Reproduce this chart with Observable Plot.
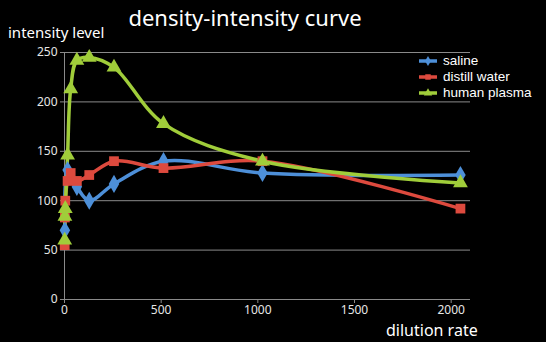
<!DOCTYPE html>
<html>
<head>
<meta charset="utf-8">
<script src="https://cdn.jsdelivr.net/npm/d3@7"></script>
<script src="https://cdn.jsdelivr.net/npm/@observablehq/plot@0.6"></script>
<style>
  html, body { margin: 0; padding: 0; background: #000; }
  #wrap { position: relative; width: 546px; height: 342px; background: #000; overflow: hidden; font-family: "Noto Sans", sans-serif; color: #fff; }
  .lbl { position: absolute; white-space: nowrap; color: #fff; line-height: 1.2; }
  #title { left: 0; width: 490px; text-align: center; top: 4px; font-size: 22px; }
  #ylab { left: 8px; top: 23px; font-size: 15px; }
  #xlab { left: 386px; top: 321px; font-size: 16px; }
  #legend { position: absolute; left: 418px; top: 53px; font-family: "Liberation Sans", sans-serif; font-size: 13.5px; line-height: 16px; }
  #legend div { display: flex; align-items: center; height: 16px; line-height: 16px; }
  #legend svg { margin-right: 5px; }
  #chart { position: absolute; left: 0; top: 0; }
</style>
</head>
<body>
<div id="wrap">
  <div id="chart"></div>
  <div class="lbl" id="title">density-intensity curve</div>
  <div class="lbl" id="ylab">intensity level</div>
  <div class="lbl" id="xlab">dilution rate</div>
  <div id="legend"></div>
</div>
<script>
// Data
const seriesNames = ["saline", "distill water", "human plasma"];
const seriesColors = ["#4d8fd8", "#dd4a3e", "#a0cd3a"];
const seriesSymbols = ["diamond", "square", "triangle"];

const salineX = [2, 16, 64, 128, 256, 512, 1024, 2048];
const salineY = [70, 131, 114, 100, 117, 140, 128, 126];

const waterX = [1, 2, 4, 16, 32, 64, 128, 256, 512, 1024, 2048];
const waterY = [55, 83, 100, 120, 128, 120, 126, 140, 133, 140, 92];

const plasmaX = [1, 2, 4, 16, 32, 64, 128, 256, 512, 1024, 2048];
const plasmaY = [60, 84, 92, 146, 213, 242, 245, 235, 178, 140, 118];

const xTicks = [0, 500, 1000, 1500, 2000];
const yTicks = [0, 50, 100, 150, 200, 250];

const rows = [];
[[salineX, salineY], [waterX, waterY], [plasmaX, plasmaY]].forEach(([xs, ys], i) => {
  xs.forEach((x, j) => rows.push({series: seriesNames[i], x, y: ys[j]}));
});

const marks = [
  Plot.ruleY(yTicks.filter(d => d > 0), {stroke: "#8a8a8a", strokeWidth: 1}),
  Plot.ruleX([0], {stroke: "#8a8a8a", strokeWidth: 1}),
  Plot.ruleY([0], {stroke: "#8a8a8a", strokeWidth: 1}),
  Plot.axisX({ticks: xTicks, tickFormat: d3.format("d"), tickSize: 4, tickPadding: 2, stroke: "#8a8a8a", color: "#e6e6e6", fontSize: 12, label: null}),
  Plot.axisY({ticks: yTicks, tickFormat: d3.format("d"), tickSize: 4, tickPadding: 3, stroke: "#8a8a8a", color: "#e6e6e6", fontSize: 12, label: null})
];
seriesNames.forEach((name, i) => {
  const data = rows.filter(d => d.series === name);
  marks.push(Plot.line(data, {x: "x", y: "y", curve: "catmull-rom", stroke: seriesColors[i], strokeWidth: 3.5}));
});
seriesNames.forEach((name, i) => {
  const data = rows.filter(d => d.series === name);
  marks.push(Plot.dot(data, {x: "x", y: "y", symbol: seriesSymbols[i], fill: seriesColors[i], stroke: "none", r: 5.5}));
});

const chart = Plot.plot({
  width: 546,
  height: 342,
  marginLeft: 64,
  marginRight: 76,
  marginTop: 52,
  marginBottom: 43,
  style: {background: "#000", color: "#e6e6e6", fontFamily: "Noto Sans, sans-serif"},
  x: {domain: [0, 2100]},
  y: {domain: [0, 250]},
  marks
});
document.getElementById("chart").appendChild(chart);

const legend = document.getElementById("legend");
seriesNames.forEach((name, i) => {
  const row = document.createElement("div");
  const sym = d3.symbol(i === 0 ? d3.symbolDiamond : i === 1 ? d3.symbolSquare : d3.symbolTriangle, 30)();
  row.innerHTML = `<svg width="20" height="12"><line x1="1" x2="19" y1="6" y2="6" stroke="${seriesColors[i]}" stroke-width="3.5"/><path d="${sym}" transform="translate(10,6)" fill="${seriesColors[i]}"/></svg><span>${name}</span>`;
  legend.appendChild(row);
});
</script>
</body>
</html>
